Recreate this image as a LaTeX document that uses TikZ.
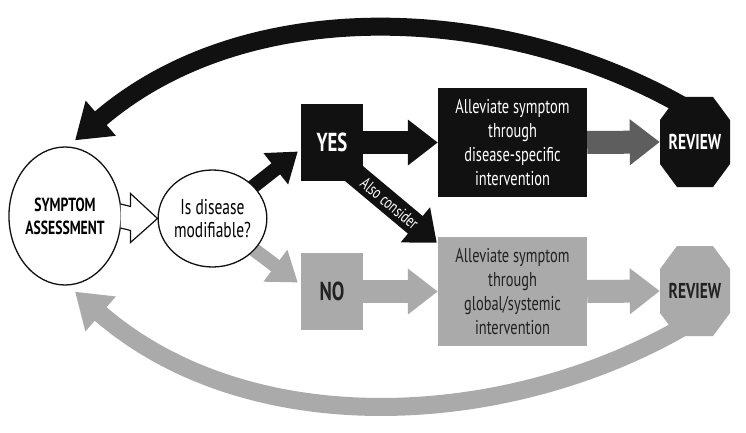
\documentclass[tikz,border=0pt]{standalone}
\usepackage{fontspec}
\setmainfont{PT Sans}[FakeStretch=0.72]
\usetikzlibrary{shapes.geometric,arrows.meta,calc,backgrounds}
\definecolor{ink}{HTML}{111111}
\definecolor{lgray}{HTML}{AAAAAA}
\definecolor{dgray}{HTML}{5E5E5E}
\definecolor{gtext}{HTML}{222222}
\tikzset{
  ell/.style={ellipse, draw=ink, line width=1.3pt, fill=white, align=center, inner sep=0pt},
  box/.style={rectangle, minimum width=149pt, minimum height=109pt, align=center, inner sep=0pt,
    font=\fontsize{20}{24}\selectfont},
  yn/.style={rectangle, minimum width=62pt, minimum height=77pt, inner sep=0pt,
    font=\bfseries\fontsize{26}{28}\selectfont},
  oct/.style={rectangle, minimum width=70pt, minimum height=90pt, inner sep=0pt,
    font=\bfseries\fontsize{21.5}{23}\selectfont,
    path picture={\fill[#1] ($(path picture bounding box.center)+(-18,-45)$) -- ++(36,0) -- ++(17,23)
      -- ++(0,44) -- ++(-17,23) -- ++(-36,0) -- ++(-17,-23) -- ++(0,-44) -- cycle;}},
  bigarrow/.style={line width=23pt, -{Triangle[length=30pt,width=44pt]}},
  midarrow/.style={line width=14pt, -{Triangle[length=28pt,width=38pt]}},
  alsoarrow/.style={line width=23pt, -{Triangle[length=28pt,width=44pt]}},
  arcarrow/.style={line width=18pt, -{Triangle[length=34pt,width=44pt]}},
  hollow/.style={draw=ink, fill=white, line width=1.2pt, line join=miter}
}
\begin{document}
\begin{tikzpicture}[x=1pt,y=-1pt]
\useasboundingbox (0,0) rectangle (746,433);
% nodes
\node[ell, minimum width=110pt, minimum height=138pt, font=\bfseries\fontsize{19}{23}\selectfont] (sa) at (65,216) {SYMPTOM\\ASSESSMENT};
\node[ell, minimum width=81pt, minimum height=97pt, font=\fontsize{21.5}{23}\selectfont] (mod) at (212.5,218.5) {Is disease\\modifiable?};
\node[yn, fill=ink, text=white] (yes) at (332,142.5) {YES};
\node[yn, fill=lgray, text=gtext] (no) at (332,291.5) {NO};
\node[box, fill=ink, text=white] (box1) at (512.5,142.5) {Alleviate symptom\\through\\disease-specific\\intervention};
\node[box, fill=lgray, text=gtext] (box2) at (512.5,291.5) {Alleviate symptom\\through\\global/systemic\\intervention};
\node[oct=ink, text=white] (rev1) at (695,142) {REVIEW};
\node[oct=lgray, text=gtext] (rev2) at (695,291) {REVIEW};
% named free ends
\coordinate (yestip) at ($(yes.west)+(-3,9)$);
\coordinate (notip) at ($(no.west)+(-3,-9)$);
\coordinate (alsostart) at ($(yes.south east)+(-12,-10)$);
\coordinate (alsotip) at ($(box2.north west)+(-1,6)$);
\coordinate (topstart) at ($(rev1.north)+(-7,12)$);
\coordinate (toptip) at ($(sa.north)+(10,-6)$);
\coordinate (botstart) at ($(rev2.south)+(-7,-12)$);
\coordinate (bottip) at ($(sa.south)+(10,6)$);
% connectors behind the nodes
\begin{pgfonlayer}{background}
\draw[midarrow, ink] (mod.center) -- (yestip);
\draw[midarrow, lgray] (mod.center) -- (notip);
\draw[bigarrow, ink] (yes.east) -- (box1.west);
\draw[bigarrow, lgray] (no.east) -- (box2.west);
\draw[bigarrow, dgray] (box1.east) -- (rev1.west);
\draw[bigarrow, lgray] (box2.east) -- (rev2.west);
\draw[alsoarrow, ink] (alsostart) -- node[sloped, pos=0.45, text=white, font=\fontsize{17}{18}\selectfont] {Also consider} (alsotip);
\draw[arcarrow, ink] (topstart) .. controls (510,5) and (250,-10) .. (toptip);
\draw[arcarrow, lgray] (botstart) .. controls (510,429) and (250,444) .. (bottip);
\end{pgfonlayer}
% hollow double arrow
\filldraw[hollow] ($(sa.east)+(-1,-12)$) -- ($(mod.west)+(-27,-12)$) -- ($(mod.west)+(-27,-25)$)
  -- (mod.west) -- ($(mod.west)+(-27,24)$) -- ($(mod.west)+(-27,12)$) -- ($(sa.east)+(-1,12)$);
\end{tikzpicture}
\end{document}
